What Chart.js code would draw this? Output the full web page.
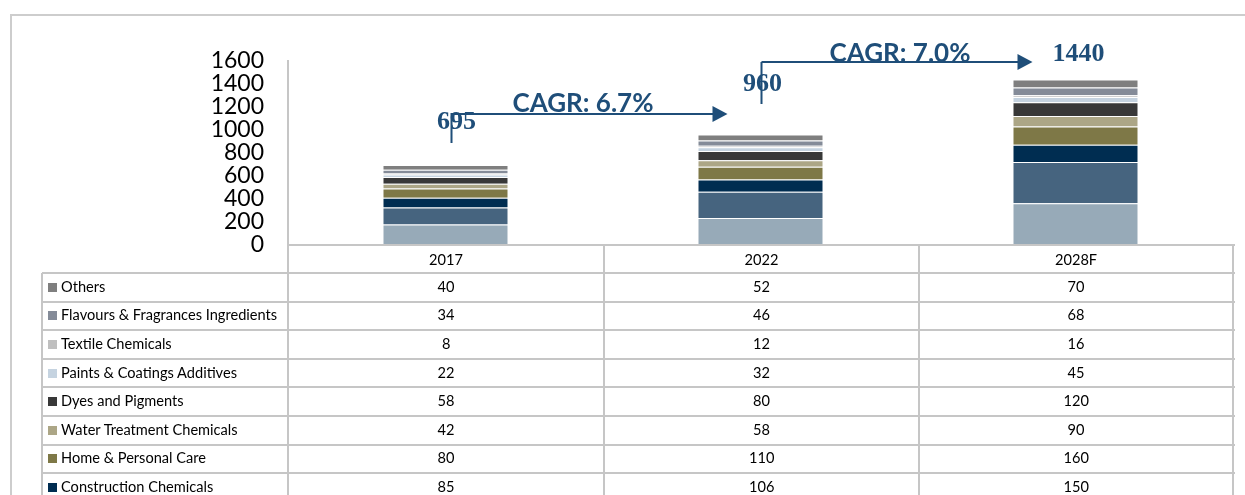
<!DOCTYPE html>
<html><head><meta charset="utf-8">
<script src="https://cdn.jsdelivr.net/npm/chart.js@4.4.1/dist/chart.umd.min.js"></script>
<style>
html,body{margin:0;padding:0;background:#fff;overflow:hidden;width:1245px;height:495px;}
#frame{position:absolute;left:10px;top:14px;width:1300px;height:600px;border-left:2px solid #cdcdcd;border-top:2px solid #cdcdcd;}
#c{position:absolute;left:0;top:0;}
#tbl{position:absolute;left:0;top:0;width:1245px;height:495px;font-family:Lato,sans-serif;font-size:14.6px;color:#000;}
.ln{position:absolute;background:#c6c6c6;}
.tx{position:absolute;white-space:nowrap;line-height:1;}
.sq{position:absolute;width:9px;height:9px;}
</style></head>
<body>
<div id="frame"></div>
<canvas id="c" width="1245" height="495"></canvas>
<div id="tbl"></div>
<script>
// ---- data ----
const categories = ['2017', '2022', '2028F'];
// series listed in table order (top row first)
const seriesNames = ['Others', 'Flavours & Fragrances Ingredients', 'Textile Chemicals', 'Paints & Coatings Additives', 'Dyes and Pigments', 'Water Treatment Chemicals', 'Home & Personal Care', 'Construction Chemicals', 'Polymer Additives', 'Agrochemicals'];
const others        = [40, 52, 70];
const flavours      = [34, 46, 68];
const textile       = [8, 12, 16];
const paints        = [22, 32, 45];
const dyes          = [58, 80, 120];
const water         = [42, 58, 90];
const homeCare      = [80, 110, 160];
const construction  = [85, 106, 150];
const polymer       = [148, 229, 359];
const agro          = [178, 235, 362];
const seriesValues = [others, flavours, textile, paints, dyes, water, homeCare, construction, polymer, agro];
const seriesColors = ['#7f7f7f', '#848b98', '#bfbfbf', '#c5d3e0', '#383838', '#aca686', '#7e7847', '#002d51', '#46647f', '#97aab8'];
const yTicks = [0, 200, 400, 600, 800, 1000, 1200, 1400, 1600];
const totalLabels = ['695', '960', '1440'];
const cagrLabels = ['CAGR: 6.7%', 'CAGR: 7.0%'];

const NAVY = '#1f4e79';

// ---- chart ----
const datasets = [];
for (let i = seriesNames.length - 1; i >= 0; i--) {
  datasets.push({
    label: seriesNames[i],
    data: seriesValues[i],
    backgroundColor: seriesColors[i],
    borderColor: 'rgba(255,255,255,0.22)',
    borderWidth: 1,
    barPercentage: 0.4,
    categoryPercentage: 1.0
  });
}

const annot = {
  id: 'annot',
  afterDraw(chart) {
    const ctx = chart.ctx, xs = chart.scales.x, ca = chart.chartArea;
    const c0 = xs.getPixelForValue(0), c1 = xs.getPixelForValue(1), c2 = xs.getPixelForValue(2);
    const T = ca.top;
    ctx.save();
    ctx.strokeStyle = NAVY; ctx.fillStyle = NAVY; ctx.lineWidth = 2;
    function arrow(xv, yv0, yv1, yh, xt) {
      ctx.beginPath();
      ctx.moveTo(xv, yv1); ctx.lineTo(xv, yv0);
      ctx.moveTo(xv, yh); ctx.lineTo(xt - 12, yh);
      ctx.stroke();
      ctx.beginPath();
      ctx.moveTo(xt, yh); ctx.lineTo(xt - 15, yh - 8); ctx.lineTo(xt - 15, yh + 8); ctx.closePath();
      ctx.fill();
    }
    arrow(c0 + 6, T + 52, T + 82, T + 53, c1 - 33);
    arrow(c1 + 1, T + 1, T + 43, T + 1, c2 - 43);
    ctx.textAlign = 'center'; ctx.textBaseline = 'alphabetic';
    ctx.font = 'bold 26px "Liberation Serif", serif';
    ctx.fillText(totalLabels[0], c0 + 11, T + 68);
    ctx.fillText(totalLabels[1], c1 + 2, T + 30);
    ctx.fillText(totalLabels[2], c2 + 3, T);
    ctx.font = 'bold 26px Lato, sans-serif';
    ctx.fillText(cagrLabels[0], (c0 + c1) / 2 - 20, T + 51);
    ctx.fillText(cagrLabels[1], (c1 + c2) / 2 - 18, T + 1);
    ctx.restore();
  }
};

new Chart(document.getElementById('c'), {
  type: 'bar',
  data: { labels: categories, datasets },
  options: {
    responsive: false, animation: false,
    layout: { padding: { top: 61, bottom: 250, left: 0, right: 12 } },
    plugins: { legend: { display: false }, tooltip: { enabled: false } },
    scales: {
      x: { stacked: true, display: false, grid: { display: false } },
      y: {
        stacked: true, min: 0, max: 1600,
        afterBuildTicks(s) { s.ticks = yTicks.map(v => ({ value: v })); },
        ticks: { autoSkip: false, padding: 24, color: '#000', font: { family: 'Lato', size: 23, lineHeight: 1 }, callback: v => String(v) },
        grid: { display: false, drawTicks: false },
        border: { display: true, color: '#c6c6c6', width: 2 },
        afterFit(s) { s.width = 288; }
      }
    }
  },
  plugins: [annot]
});

// ---- data table ----
const tbl = document.getElementById('tbl');
function line(x, y, w, h) { const d = document.createElement('div'); d.className = 'ln'; Object.assign(d.style, { left: x + 'px', top: y + 'px', width: w + 'px', height: h + 'px' }); tbl.appendChild(d); }
function text(str, cx, cy, align) {
  const d = document.createElement('div'); d.className = 'tx'; d.textContent = str;
  tbl.appendChild(d);
  const w = d.offsetWidth, h = d.offsetHeight;
  d.style.left = (align === 'left' ? cx : cx - w / 2) + 'px';
  d.style.top = (cy - h / 2) + 'px';
}
const colX = [42, 288, 604, 919, 1233];
const headTop = 245, rowTop = 273, rowH = 28.6;
const nRows = seriesNames.length;
const bottom = rowTop + nRows * rowH;
// horizontal lines
line(288, headTop - 1, 1233 - 288 + 2, 2);
for (let r = 0; r <= nRows; r++) line(42, Math.round(rowTop + r * rowH) - 1, 1233 - 42 + 2, 2);
// vertical lines
line(42 - 1, rowTop, 2, bottom - rowTop);
for (let c = 1; c < colX.length; c++) line(colX[c] - 1, headTop, 2, bottom - headTop);
// header
categories.forEach((cat, j) => text(cat, (colX[j + 1] + colX[j + 2]) / 2, (headTop + rowTop) / 2 + 1));
// rows
seriesNames.forEach((name, i) => {
  const cy = rowTop + i * rowH + rowH / 2;
  const sq = document.createElement('div'); sq.className = 'sq';
  sq.style.left = '48px'; sq.style.top = (cy - 4.5) + 'px'; sq.style.background = seriesColors[i];
  tbl.appendChild(sq);
  text(name, 61, cy, 'left');
  seriesValues[i].forEach((v, j) => text(String(v), (colX[j + 1] + colX[j + 2]) / 2, cy));
});
</script>
</body></html>
